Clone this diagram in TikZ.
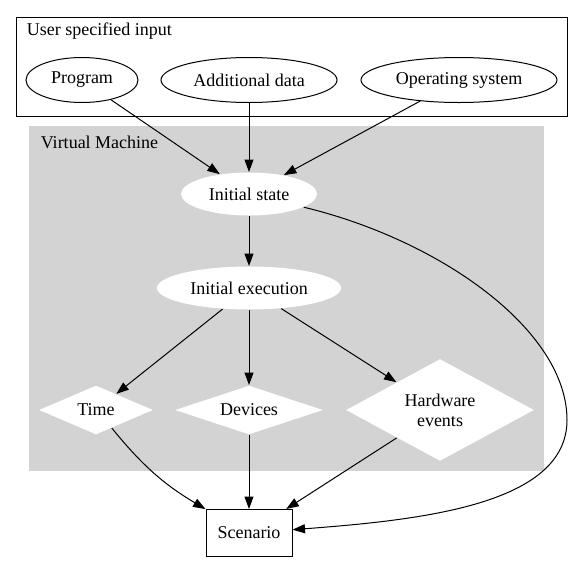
\documentclass[tikz,border=0pt]{standalone}
\usepackage{fontspec}
\setmainfont{Liberation Serif}
\usetikzlibrary{arrows.meta}
\usetikzlibrary{shapes.geometric}
\definecolor{vmgrey}{RGB}{211, 211, 211}

\begin{document}
\begin{tikzpicture}[x=1pt, y=-1pt, line width=1pt,
    every node/.style={font=\fontsize{18}{20}\selectfont},
    input/.style={draw, ellipse, minimum height=45pt, inner sep=0pt},
    state/.style={fill=white, ellipse, minimum height=43pt, inner sep=0pt},
    choice/.style={fill=white, diamond, inner sep=0pt, align=center},
    edge/.style={-{Triangle[length=12.5pt, width=9pt]}}]
      \useasboundingbox (0, 0) rectangle (583, 563);

      \draw (16, 17) rectangle (567, 116);
      \fill [vmgrey] (29, 126) rectangle (544, 471);
      \node [anchor=west] (userlabel) at (23, 31) {User specified input};
      \node [anchor=west] (vmlabel) at (37, 142) {Virtual Machine};

      \node [input, minimum width=112pt] (program) at (82, 80) {Program};
      \node [input, minimum width=176pt] (data) at (249, 80) {Additional data};
      \node [input, minimum width=196pt] (os) at (459, 80) {Operating system};
      \node [state, minimum width=136pt] (init) at (249, 194) {Initial state};
      \node [state, minimum width=184pt] (exec) at (249, 288) {Initial execution};
      \node [choice, shape aspect=2.3, minimum width=114pt, minimum height=49pt] (time) at (96, 410) {Time};
      \node [choice, shape aspect=3, minimum width=148pt, minimum height=49pt] (devices) at (249, 410) {Devices};
      \node [choice, shape aspect=1.84, minimum width=188pt, minimum height=102pt] (hw) at (440, 410) {Hardware\\events};
      \node [draw, minimum width=86pt, minimum height=47pt] (scenario) at (249, 533) {Scenario};
      \coordinate (turn) at (567, 420);

      \draw [edge] (program) -- (init);
      \draw [edge] (data) -- (init);
      \draw [edge] (os) -- (init);
      \draw [edge] (init) -- (exec);
      \draw [edge] (exec) -- (time);
      \draw [edge] (exec) -- (devices);
      \draw [edge] (exec) -- (hw);
      \draw [edge] (time) to [bend right=10] (scenario);
      \draw [edge] (devices) -- (scenario);
      \draw [edge] (hw) -- (scenario);
      \draw [edge] (init) .. controls (440, 240) and (567, 330) .. (turn)
            .. controls (567, 505) and (420, 520) .. (scenario);
    \end{tikzpicture}
\end{document}
